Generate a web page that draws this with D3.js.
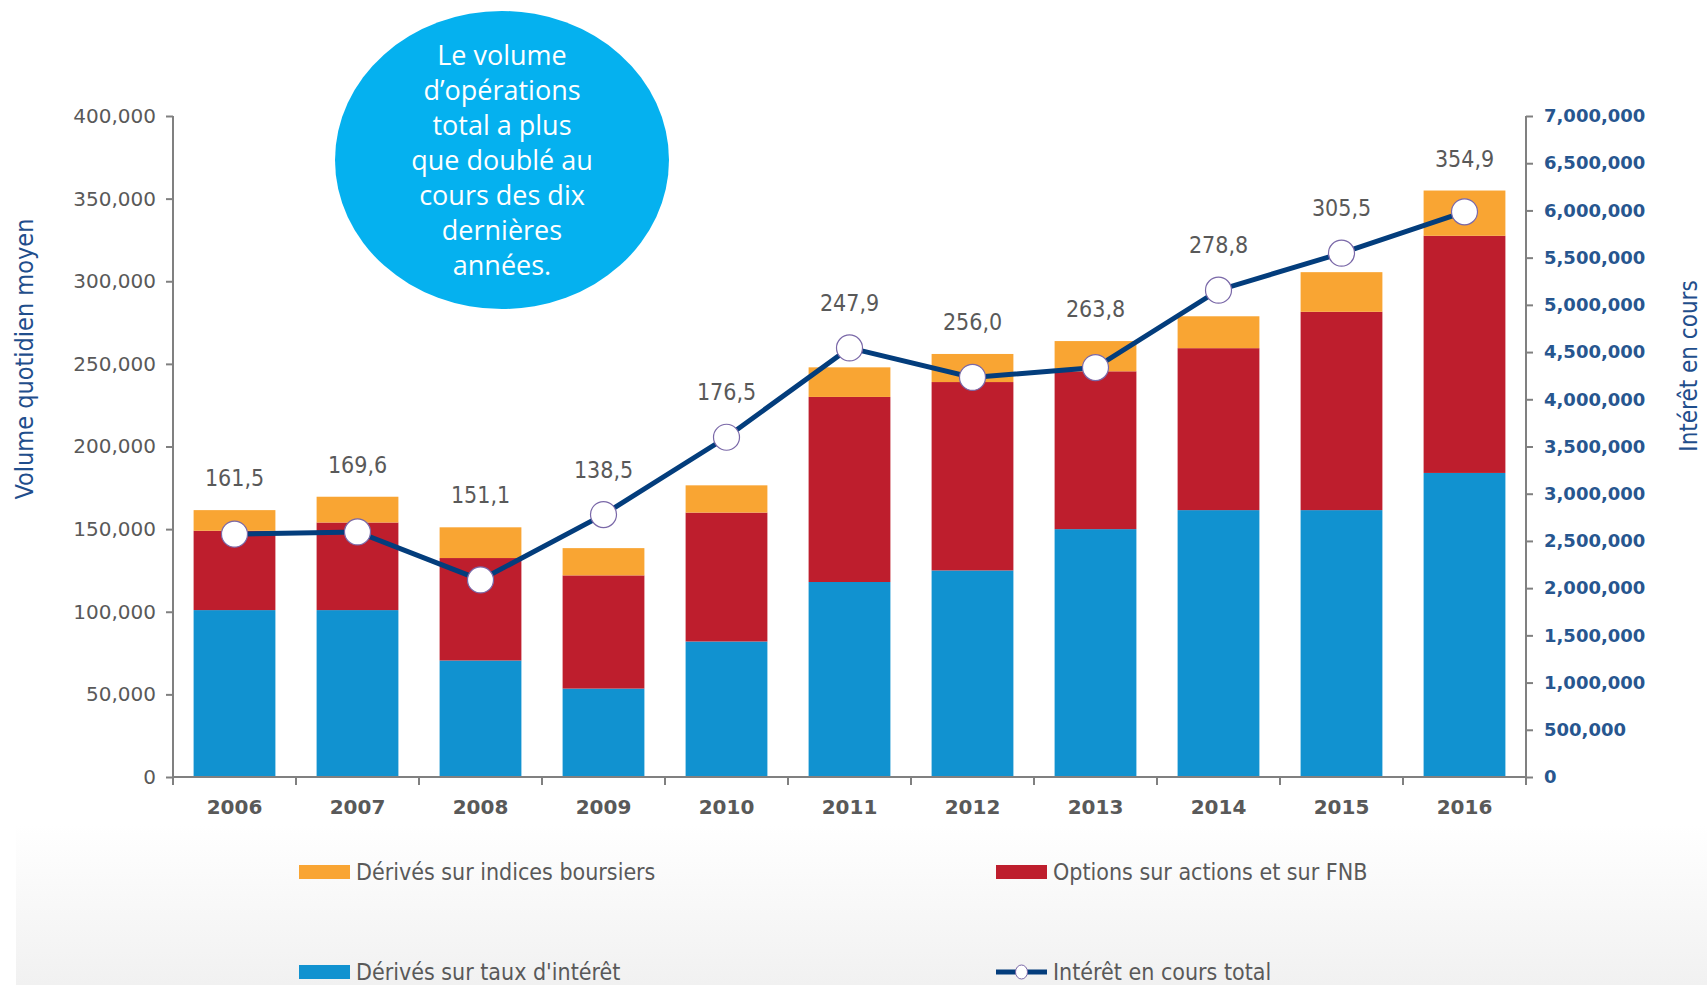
<!DOCTYPE html>
<html>
<head>
<meta charset="utf-8">
<script src="https://cdn.jsdelivr.net/npm/d3@7"></script>
<style>
  html, body { margin: 0; padding: 0; background: #fff; }
  #chart { width: 1707px; height: 985px; }
</style>
</head>
<body>
<div id="chart"></div>
<script>
const years = ["2006", "2007", "2008", "2009", "2010", "2011", "2012", "2013", "2014", "2015", "2016"];
// daily average volume, in thousands of contracts
const tauxInteret = [101, 101, 70.5, 53.5, 82, 118, 125, 150, 161.5, 161.5, 184];
const optionsActions = [48, 53, 62, 68.5, 78, 112, 114, 95.5, 98, 120, 143.5];
const indicesBoursiers = [12.5, 15.6, 18.6, 16.5, 16.5, 17.9, 17, 18.3, 19.3, 24, 27.4];
const totalLabels = ["161,5", "169,6", "151,1", "138,5", "176,5", "247,9", "256,0", "263,8", "278,8", "305,5", "354,9"];
const interetEnCours = [2572000, 2595000, 2087000, 2779000, 3598000, 4544000, 4232000, 4336000, 5155000, 5547000, 5985000];
const leftTicks = [0, 50000, 100000, 150000, 200000, 250000, 300000, 350000, 400000];
const rightTicks = [0, 500000, 1000000, 1500000, 2000000, 2500000, 3000000, 3500000, 4000000, 4500000, 5000000, 5500000, 6000000, 6500000, 7000000];
const seriesNames = ["Dérivés sur taux d'intérêt", "Options sur actions et sur FNB", "Dérivés sur indices boursiers"];
const lineName = "Intérêt en cours total";
const bubbleLines = ["Le volume", "d\u2019opérations", "total a plus", "que doublé au", "cours des dix", "dernières", "années."];

function drawChart() {
  const W = 1707, H = 985;
  const margin = { top: 116, right: 181, bottom: 208, left: 173 };
  const width = W - margin.left - margin.right;
  const height = H - margin.top - margin.bottom;

  const colors = ["#1192d0", "#be1e2d", "#f9a533"];
  const lineColor = "#033d7c";
  const grayText = "#595959";
  const blueText = "#1f4e8c";
  const narrow = "'DejaVu Sans Condensed', 'Liberation Sans Narrow', sans-serif";

  const root = d3.select("#chart").append("svg")
    .attr("width", W)
    .attr("height", H);

  // soft gray band behind the legend
  const defs = root.append("defs");
  const grad = defs.append("linearGradient")
    .attr("id", "legendBg")
    .attr("x1", 0).attr("y1", 0).attr("x2", 0).attr("y2", 1);
  grad.append("stop").attr("offset", "0%").attr("stop-color", "#ffffff");
  grad.append("stop").attr("offset", "100%").attr("stop-color", "#f1f1f1");
  root.append("rect")
    .attr("x", 16).attr("y", 825)
    .attr("width", W - 16).attr("height", H - 825)
    .attr("fill", "url(#legendBg)");

  const svg = root.append("g")
    .attr("transform", `translate(${margin.left},${margin.top})`);

  const data = years.map((y, i) => ({
    year: y,
    taux: tauxInteret[i] * 1000,
    options: optionsActions[i] * 1000,
    indices: indicesBoursiers[i] * 1000,
    oi: interetEnCours[i],
    label: totalLabels[i]
  }));

  const x = d3.scaleBand()
    .domain(years)
    .range([0, width])
    .paddingInner(0.335)
    .paddingOuter(0.1675);

  const y = d3.scaleLinear()
    .domain([0, 400000])
    .range([height, 0]);

  const y2 = d3.scaleLinear()
    .domain([0, 7000000])
    .range([height, 0]);

  const stack = d3.stack().keys(["taux", "options", "indices"]);
  const stacked = stack(data);

  // Bars
  svg.selectAll("g.layer")
    .data(stacked)
    .enter()
    .append("g")
    .attr("class", "layer")
    .attr("fill", (d, i) => colors[i])
    .selectAll("rect")
    .data(d => d)
    .enter()
    .append("rect")
    .attr("x", d => x(d.data.year))
    .attr("y", d => y(d[1]))
    .attr("width", x.bandwidth())
    .attr("height", d => y(d[0]) - y(d[1]));

  const fmt = d3.format(",");

  // Left axis
  const leftAxis = svg.append("g")
    .call(d3.axisLeft(y).tickValues(leftTicks).tickFormat(fmt).tickSize(7).tickPadding(10));
  leftAxis.selectAll("text")
    .style("font-family", "Verdana, 'DejaVu Sans', sans-serif")
    .style("font-size", "20px")
    .style("fill", grayText);

  // Right axis
  const rightAxis = svg.append("g")
    .attr("transform", `translate(${width},0)`)
    .call(d3.axisRight(y2).tickValues(rightTicks).tickFormat(fmt).tickSize(7).tickPadding(11));
  rightAxis.selectAll("text")
    .style("font-family", "Verdana, 'DejaVu Sans', sans-serif")
    .style("font-size", "18px")
    .style("font-weight", "bold")
    .style("fill", "#27568f");

  // Bottom axis: ticks sit at the band boundaries
  const bottom = svg.append("g")
    .attr("transform", `translate(0,${height})`);
  bottom.append("line")
    .attr("x1", 0).attr("x2", width)
    .attr("stroke", "#808080").attr("stroke-width", 2);
  bottom.selectAll("line.tick")
    .data(d3.range(years.length + 1))
    .enter()
    .append("line")
    .attr("class", "tick")
    .attr("x1", i => i * x.step())
    .attr("x2", i => i * x.step())
    .attr("y1", 0).attr("y2", 8)
    .attr("stroke", "#808080").attr("stroke-width", 2);
  bottom.selectAll("text")
    .data(years)
    .enter()
    .append("text")
    .attr("x", d => x(d) + x.bandwidth() / 2)
    .attr("y", 30)
    .attr("dy", "0.35em")
    .attr("text-anchor", "middle")
    .style("font-family", "Verdana, 'DejaVu Sans', sans-serif")
    .style("font-size", "20px")
    .style("font-weight", "bold")
    .style("fill", grayText)
    .text(d => d);

  [leftAxis, rightAxis].forEach(a => {
    a.select(".domain").attr("stroke", "#808080").attr("stroke-width", 2);
    a.selectAll(".tick line").attr("stroke", "#808080").attr("stroke-width", 2);
  });
  leftAxis.select(".domain").attr("d", `M0,0V${height}`);
  rightAxis.select(".domain").attr("d", `M0,0V${height + 8}`);

  // Axis titles
  root.append("text")
    .attr("transform", `translate(24,${margin.top + 243}) rotate(-90)`)
    .attr("text-anchor", "middle")
    .attr("dy", "0.35em")
    .style("font-family", narrow)
    .style("font-size", "25px")
    .style("fill", blueText)
    .text("Volume quotidien moyen");

  root.append("text")
    .attr("transform", `translate(1689,${margin.top + 250}) rotate(-90)`)
    .attr("text-anchor", "middle")
    .attr("dy", "0.35em")
    .style("font-family", narrow)
    .style("font-size", "24px")
    .style("fill", blueText)
    .text("Intérêt en cours");

  // Line: open interest
  const cx = d => x(d.year) + x.bandwidth() / 2;
  const line = d3.line()
    .x(cx)
    .y(d => y2(d.oi));

  svg.append("path")
    .datum(data)
    .attr("fill", "none")
    .attr("stroke", lineColor)
    .attr("stroke-width", 5)
    .attr("d", line);

  svg.selectAll("circle.marker")
    .data(data)
    .enter()
    .append("circle")
    .attr("class", "marker")
    .attr("cx", cx)
    .attr("cy", d => y2(d.oi))
    .attr("r", 13)
    .attr("fill", "#fff")
    .attr("stroke", "#7a68a8")
    .attr("stroke-width", 1.2);

  // Total labels above the highest mark
  svg.selectAll("text.total")
    .data(data)
    .enter()
    .append("text")
    .attr("class", "total")
    .attr("x", cx)
    .attr("y", d => Math.min(y(d.taux + d.options + d.indices), y2(d.oi) - 13) - 32)
    .attr("dy", "0.35em")
    .attr("text-anchor", "middle")
    .style("font-family", narrow)
    .style("font-size", "23px")
    .style("fill", grayText)
    .text(d => d.label);

  // Callout bubble
  const bubble = root.append("g");
  bubble.append("ellipse")
    .attr("cx", 502).attr("cy", 160)
    .attr("rx", 167).attr("ry", 149)
    .attr("fill", "#05b1ef");
  bubble.selectAll("text")
    .data(bubbleLines)
    .enter()
    .append("text")
    .attr("x", 502)
    .attr("y", (d, i) => 56 + i * 35)
    .attr("dy", "0.35em")
    .attr("text-anchor", "middle")
    .style("font-family", "'Open Sans', sans-serif")
    .style("font-size", "27px")
    .style("fill", "#fff")
    .text(d => d);

  // Legend
  const legendItems = [
    { name: seriesNames[2], color: colors[2], x: 299, y: 872, type: "rect" },
    { name: seriesNames[1], color: colors[1], x: 996, y: 872, type: "rect" },
    { name: seriesNames[0], color: colors[0], x: 299, y: 972, type: "rect" },
    { name: lineName, color: lineColor, x: 996, y: 972, type: "line" }
  ];
  const legend = root.append("g");
  const li = legend.selectAll("g")
    .data(legendItems)
    .enter()
    .append("g")
    .attr("transform", d => `translate(${d.x},${d.y})`);
  li.filter(d => d.type === "rect")
    .append("rect")
    .attr("x", 0).attr("y", -7)
    .attr("width", 51).attr("height", 14)
    .attr("fill", d => d.color);
  const ll = li.filter(d => d.type === "line");
  ll.append("line")
    .attr("x1", 0).attr("x2", 51)
    .attr("stroke", lineColor).attr("stroke-width", 5);
  ll.append("ellipse")
    .attr("cx", 25.5).attr("rx", 6).attr("ry", 7)
    .attr("fill", "#fff").attr("stroke", "#7a68a8").attr("stroke-width", 1);
  li.append("text")
    .attr("x", 57)
    .attr("dy", "0.35em")
    .style("font-family", narrow)
    .style("font-size", "23px")
    .style("fill", grayText)
    .text(d => d.name);
}

drawChart();
</script>
</body>
</html>
